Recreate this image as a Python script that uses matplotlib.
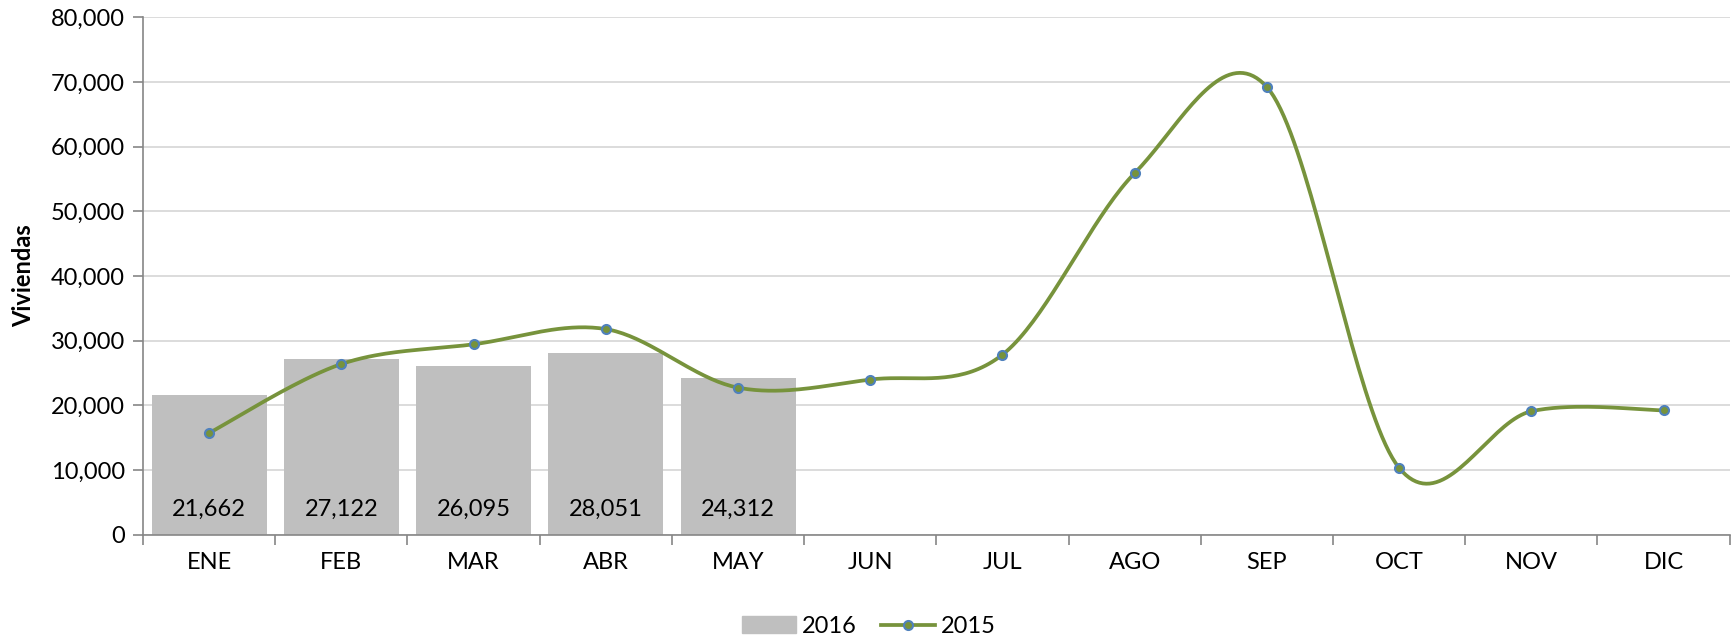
import numpy as np
import matplotlib
matplotlib.use('Agg')
from matplotlib import pyplot as plt
from matplotlib.ticker import FuncFormatter, FixedLocator
from matplotlib.patches import Patch
from matplotlib.lines import Line2D

plt.rcParams['font.family'] = ['Lato', 'DejaVu Sans']

meses = ['ENE', 'FEB', 'MAR', 'ABR', 'MAY', 'JUN', 'JUL', 'AGO', 'SEP', 'OCT', 'NOV', 'DIC']
viviendas_2016 = [21662, 27122, 26095, 28051, 24312]
viviendas_2015 = [15750, 26400, 29450, 31800, 22750, 24000, 27850, 55900, 69200, 10350, 19100, 19250]

verde = '#77933C'
azul = '#4F81BD'
gris = '#BFBFBF'


def suavizar(x, y, pasos=40):
    # curva tipo Catmull-Rom (parecida a la linea suavizada de Excel)
    x = np.asarray(x, float)
    y = np.asarray(y, float)
    px = np.concatenate([[x[0]], x, [x[-1]]])
    py = np.concatenate([[y[0]], y, [y[-1]]])
    xs, ys = [], []
    t = np.linspace(0, 1, pasos)
    for i in range(1, len(px) - 2):
        p0 = np.array([px[i], py[i]])
        p3 = np.array([px[i + 1], py[i + 1]])
        c1 = p0 + (np.array([px[i + 1], py[i + 1]]) - np.array([px[i - 1], py[i - 1]])) / 6
        c2 = p3 - (np.array([px[i + 2], py[i + 2]]) - np.array([px[i], py[i]])) / 6
        b = ((1 - t) ** 3)[:, None] * p0 + (3 * (1 - t) ** 2 * t)[:, None] * c1 \
            + (3 * (1 - t) * t ** 2)[:, None] * c2 + (t ** 3)[:, None] * p3
        xs.extend(b[:, 0])
        ys.extend(b[:, 1])
    return xs, ys


fig = plt.figure(figsize=(17.34, 6.36), dpi=100)
ax = fig.add_axes([0.0825, 0.159, 0.915, 0.814])

x = np.arange(len(meses))
ax.bar(x[:len(viviendas_2016)], viviendas_2016, width=0.87, color=gris, zorder=2)
for i, v in enumerate(viviendas_2016):
    ax.annotate(f'{v:,}', (i, 0), xytext=(0, 26), textcoords='offset pixels',
                ha='center', va='center', fontsize=17, color='black', zorder=3)

sx, sy = suavizar(x, viviendas_2015)
ax.plot(sx, sy, color=verde, lw=2.7, zorder=3, solid_capstyle='round')
ax.plot(x, viviendas_2015, ls='none', marker='o', ms=6.5, mfc=verde, mec=azul,
        mew=1.5, zorder=4)

ax.set_xlim(-0.5, 11.5)
ax.set_ylim(0, 80000)
ax.set_yticks(np.arange(0, 80001, 10000))
ax.yaxis.set_major_formatter(FuncFormatter(lambda v, p: f'{int(v):,}'))
ax.grid(axis='y', color='#D9D9D9', lw=1.3, zorder=0)
ax.set_axisbelow(True)

ax.xaxis.set_major_locator(FixedLocator(np.arange(-0.5, 12, 1)))
ax.xaxis.set_minor_locator(FixedLocator(x))
ax.set_xticklabels([])
ax.set_xticklabels(meses, minor=True)
ax.tick_params(axis='x', which='major', length=7, color='#868686', width=1.2)
ax.tick_params(axis='x', which='minor', length=0, pad=12, labelsize=17)
ax.tick_params(axis='y', length=7, color='#868686', width=1.2, labelsize=17, pad=6)

for s in ['top', 'right']:
    ax.spines[s].set_visible(False)
for s in ['left', 'bottom']:
    ax.spines[s].set_color('#868686')
    ax.spines[s].set_linewidth(1.2)

ax.set_ylabel('Viviendas', fontsize=17, fontweight='bold')
ax.yaxis.set_label_coords(-0.068, 0.5)

handles = [Patch(color=gris),
           Line2D([], [], color=verde, lw=2.7, marker='o', ms=6.5, mfc=verde, mec=azul, mew=1.5)]
fig.legend(handles, ['2016', '2015'], loc='center', bbox_to_anchor=(0.501, 0.015), ncol=2,
           frameon=False, fontsize=17, handlelength=2.3, columnspacing=1.0, handletextpad=0.25)

plt.savefig('out.png', dpi=100)
